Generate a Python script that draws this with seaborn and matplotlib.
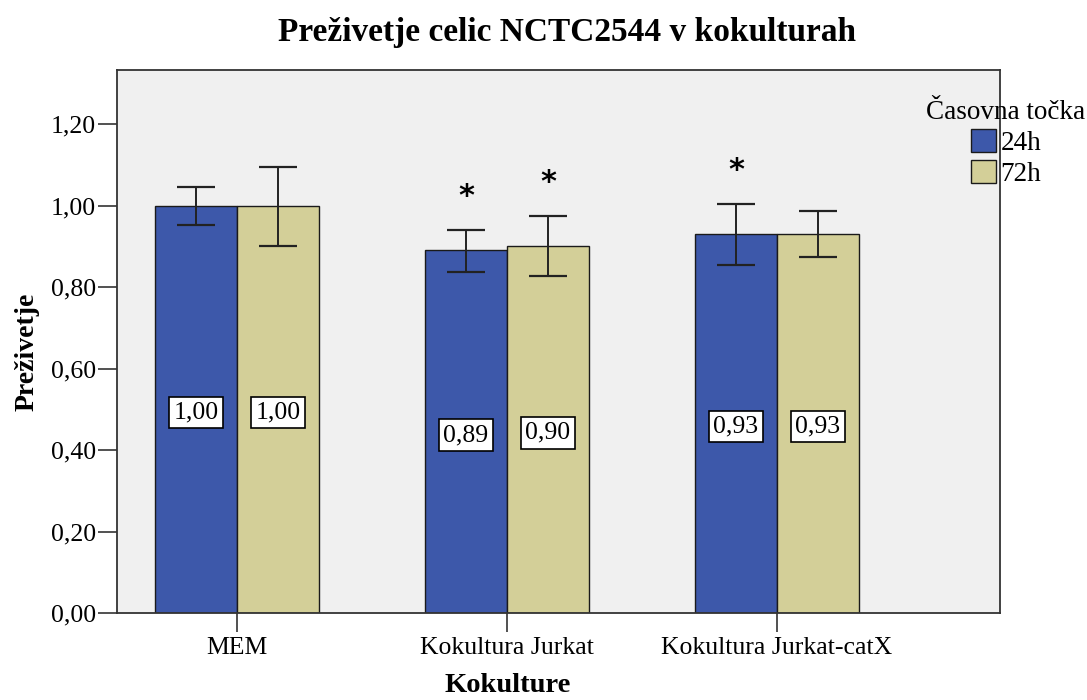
import matplotlib
matplotlib.use("Agg")
import matplotlib.pyplot as plt
import seaborn as sns
import pandas as pd

# Survival data (mean and error-bar bounds) per co-culture and time point
groups = ["MEM", "Kokultura Jurkat", "Kokultura Jurkat-catX"]
time_points = ["24h", "72h"]
mean_24h = [1.00, 0.89, 0.93]
mean_72h = [1.00, 0.90, 0.93]
low_24h = [0.952, 0.836, 0.854]
high_24h = [1.045, 0.940, 1.005]
low_72h = [0.902, 0.827, 0.875]
high_72h = [1.094, 0.975, 0.986]
signif_24h = [False, True, True]
signif_72h = [False, True, False]

y_ticks = [0.0, 0.2, 0.4, 0.6, 0.8, 1.0, 1.2]
y_tick_labels = ["0,00", "0,20", "0,40", "0,60", "0,80", "1,00", "1,20"]

colors = ["#3D58AA", "#D3CF98"]

df = pd.DataFrame({
    "Kokulture": groups * 2,
    "Časovna točka": [time_points[0]] * 3 + [time_points[1]] * 3,
    "Preživetje": mean_24h + mean_72h,
})

sns.set_style("white")
plt.rcParams["font.family"] = ["Liberation Serif", "DejaVu Serif"]
plt.rcParams["text.color"] = "black"
plt.rcParams["xtick.color"] = "black"
plt.rcParams["ytick.color"] = "black"

fig = plt.figure(figsize=(10.87, 7.0), dpi=100)
ax = fig.add_axes([117 / 1087, 87 / 700, 883 / 1087, 543 / 700])
ax.set_facecolor("#F0F0F0")

sns.barplot(data=df, x="Kokulture", y="Preživetje", hue="Časovna točka",
            hue_order=time_points, palette=colors, width=0.607,
            edgecolor="#1a1a1a", linewidth=1.0, errorbar=None, ax=ax,
            saturation=1)

means = [mean_24h, mean_72h]
lows = [low_24h, low_72h]
highs = [high_24h, high_72h]
signifs = [signif_24h, signif_72h]

# Bars sorted left to right: (group 0, 24h), (group 0, 72h), (group 1, 24h), ...
bars = sorted([p for p in ax.patches if p.get_height() > 0],
              key=lambda p: p.get_x())

for n, bar in enumerate(bars):
    i, k = divmod(n, 2)
    xc = bar.get_x() + bar.get_width() / 2
    m = means[k][i]
    lo, hi = lows[k][i], highs[k][i]
    ax.errorbar([xc], [m], yerr=[[m - lo], [hi - m]], fmt="none",
                ecolor="#222222", elinewidth=1.4, capsize=14, capthick=1.6,
                zorder=4)
    ax.text(xc, m / 2 - 0.008, f"{m:.2f}".replace(".", ","), ha="center",
            va="center", fontsize=18.5, zorder=5,
            bbox=dict(boxstyle="square,pad=0.18", facecolor="white",
                      edgecolor="black", linewidth=1.2))
    if signifs[k][i]:
        ax.text(xc, hi + 0.082, "*", ha="center", va="center",
                fontsize=22, fontweight="bold", family="DejaVu Sans",
                zorder=5)

ax.set_xlim(-0.444, 2.826)
ax.set_ylim(0, 1.333)
ax.set_yticks(y_ticks)
ax.set_yticklabels(y_tick_labels, fontsize=18.5)
ax.tick_params(axis="x", labelsize=18.5, length=14, width=1.2, color="#333333",
               direction="out", bottom=True, pad=3)
ax.tick_params(axis="y", length=14, width=1.2, color="#333333",
               direction="out", left=True, pad=1)
for s in ax.spines.values():
    s.set_color("#333333")
    s.set_linewidth(1.3)
ax.set_xlabel("")
ax.set_ylabel("")

fig.text(567 / 1087, 1 - 33 / 700, "Preživetje celic NCTC2544 v kokulturah",
         ha="center", va="center", fontsize=24, fontweight="bold")
fig.text(27 / 1087, 1 - 352 / 700, "Preživetje", rotation=90, ha="center",
         va="center", fontsize=20, fontweight="bold")
fig.text(508 / 1087, 1 - 686 / 700, "Kokulture", ha="center", va="center",
         fontsize=20.5, fontweight="bold")

ax.legend(title="Časovna točka", loc="upper center",
          bbox_to_anchor=(1006 / 1087, 1 - 86 / 700),
          bbox_transform=fig.transFigure, frameon=False, fontsize=19.5,
          title_fontsize=19.5, handlelength=0.95, handleheight=0.95,
          handletextpad=0.15, labelspacing=0.15, borderpad=0.0)

fig.savefig("out.png", dpi=100, facecolor="white")
